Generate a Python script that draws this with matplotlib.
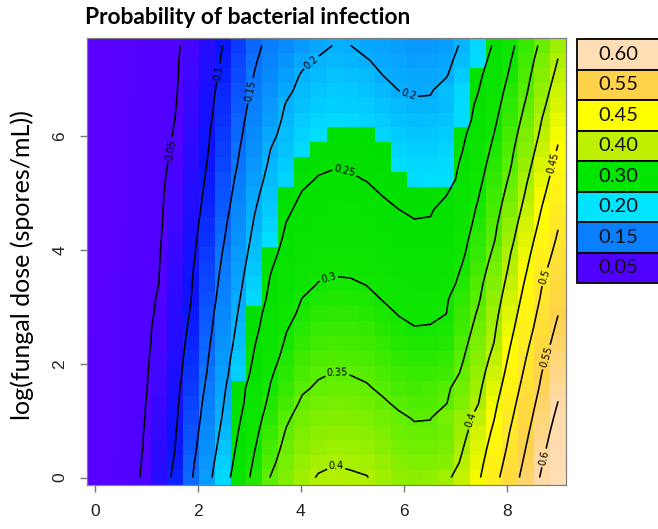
import numpy as np
import matplotlib
matplotlib.use("Agg")
import matplotlib.pyplot as plt
from matplotlib.colors import LinearSegmentedColormap, Normalize
from matplotlib.patches import Rectangle

# grid of log bacterial dose (columns) and log fungal dose (rows)
bact_dose = [0.00, 0.31, 0.62, 0.93, 1.24, 1.55, 1.86, 2.17, 2.48, 2.79,
             3.10, 3.41, 3.72, 4.03, 4.34, 4.66, 4.97, 5.28, 5.59, 5.90,
             6.21, 6.52, 6.83, 7.14, 7.45, 7.76, 8.07, 8.38, 8.69, 9.00]
fungal_dose = [0.00, 0.26, 0.52, 0.79, 1.05, 1.31, 1.57, 1.83, 2.10, 2.36,
               2.62, 2.88, 3.14, 3.41, 3.67, 3.93, 4.19, 4.46, 4.72, 4.98,
               5.24, 5.50, 5.77, 6.03, 6.29, 6.55, 6.81, 7.08, 7.34, 7.60]

# predicted infection probability x 1000, one row per fungal dose (bottom row first)
infection_permille = [
    [22, 31, 41, 52, 79, 107, 145, 185, 229, 272, 312, 351, 371, 391, 402, 404, 403, 401, 392, 383, 379, 383, 394, 414, 444, 486, 527, 567, 606, 645],
    [22, 31, 41, 51, 77, 103, 141, 180, 222, 265, 305, 342, 366, 385, 395, 399, 397, 394, 385, 376, 371, 372, 376, 406, 437, 476, 519, 559, 598, 636],
    [22, 30, 40, 50, 75, 99, 136, 174, 215, 258, 298, 333, 360, 378, 387, 390, 389, 385, 377, 368, 364, 364, 368, 398, 430, 467, 510, 551, 590, 628],
    [21, 30, 39, 49, 72, 97, 132, 169, 208, 251, 291, 325, 353, 370, 379, 382, 381, 377, 369, 360, 356, 356, 361, 389, 422, 458, 502, 543, 582, 619],
    [21, 30, 39, 47, 70, 94, 128, 164, 202, 244, 284, 317, 345, 363, 371, 374, 373, 369, 363, 355, 348, 349, 366, 386, 411, 449, 493, 535, 574, 610],
    [21, 29, 38, 46, 68, 92, 124, 160, 197, 237, 275, 309, 334, 355, 363, 366, 365, 361, 354, 345, 340, 342, 349, 372, 399, 441, 484, 527, 566, 601],
    [20, 29, 38, 45, 63, 90, 120, 155, 191, 236, 268, 302, 324, 346, 354, 358, 357, 353, 345, 337, 332, 336, 345, 364, 392, 431, 475, 518, 558, 593],
    [20, 29, 37, 44, 62, 87, 116, 150, 186, 224, 261, 296, 317, 337, 347, 351, 349, 345, 337, 329, 325, 325, 329, 355, 385, 421, 466, 509, 551, 584],
    [20, 28, 37, 44, 59, 85, 113, 146, 182, 218, 254, 287, 311, 330, 339, 342, 341, 337, 330, 321, 317, 317, 322, 347, 377, 411, 457, 500, 542, 575],
    [20, 28, 36, 43, 57, 83, 109, 142, 177, 212, 248, 278, 305, 322, 331, 335, 333, 330, 322, 313, 309, 309, 314, 340, 369, 401, 448, 491, 532, 566],
    [19, 28, 36, 44, 55, 80, 106, 138, 172, 207, 241, 271, 298, 315, 323, 327, 326, 322, 314, 306, 301, 302, 306, 332, 362, 395, 439, 482, 522, 558],
    [19, 27, 36, 43, 53, 78, 102, 135, 168, 202, 237, 264, 288, 308, 316, 319, 318, 314, 307, 299, 295, 295, 300, 327, 354, 389, 430, 474, 514, 549],
    [19, 27, 35, 42, 52, 76, 99, 131, 163, 197, 229, 258, 280, 301, 308, 312, 310, 307, 299, 292, 287, 290, 297, 319, 346, 382, 422, 465, 506, 540],
    [19, 27, 35, 42, 50, 73, 97, 127, 159, 192, 224, 253, 270, 288, 301, 304, 303, 299, 292, 285, 280, 281, 285, 311, 340, 374, 414, 456, 499, 532],
    [18, 26, 35, 42, 49, 71, 95, 124, 155, 188, 218, 248, 266, 284, 293, 296, 295, 291, 285, 278, 273, 274, 278, 303, 332, 366, 406, 447, 489, 523],
    [18, 26, 34, 41, 48, 69, 92, 120, 151, 183, 213, 241, 261, 278, 286, 290, 288, 285, 278, 271, 266, 267, 271, 295, 324, 357, 399, 439, 479, 514],
    [18, 26, 34, 41, 47, 66, 90, 116, 146, 178, 208, 234, 256, 271, 279, 283, 281, 278, 271, 264, 259, 260, 264, 289, 318, 348, 390, 430, 470, 505],
    [18, 25, 33, 40, 46, 63, 87, 113, 142, 172, 203, 227, 251, 265, 272, 276, 274, 271, 264, 257, 252, 253, 257, 282, 311, 342, 381, 422, 460, 497],
    [17, 25, 33, 40, 46, 61, 85, 109, 137, 167, 198, 221, 244, 259, 265, 269, 267, 264, 257, 250, 246, 247, 260, 281, 304, 335, 372, 413, 452, 488],
    [17, 25, 33, 40, 45, 60, 82, 106, 133, 162, 193, 215, 237, 252, 258, 262, 260, 257, 249, 245, 240, 242, 249, 271, 298, 329, 363, 404, 443, 479],
    [17, 25, 32, 39, 45, 57, 80, 103, 130, 157, 187, 210, 227, 244, 252, 255, 253, 249, 244, 239, 231, 233, 233, 263, 291, 322, 355, 396, 434, 471],
    [16, 24, 32, 39, 44, 55, 78, 100, 126, 152, 180, 205, 221, 236, 245, 248, 247, 243, 238, 233, 228, 229, 231, 256, 285, 315, 347, 387, 426, 462],
    [16, 24, 32, 39, 44, 52, 75, 97, 122, 148, 174, 200, 215, 231, 239, 242, 241, 237, 236, 226, 222, 222, 227, 249, 278, 308, 341, 378, 417, 453],
    [16, 24, 31, 38, 44, 51, 73, 95, 119, 144, 169, 193, 210, 225, 233, 236, 237, 236, 226, 220, 216, 216, 221, 243, 271, 301, 334, 370, 408, 444],
    [16, 23, 31, 38, 44, 50, 71, 92, 116, 141, 164, 187, 206, 219, 227, 230, 229, 225, 220, 214, 210, 211, 215, 232, 264, 294, 327, 362, 401, 436],
    [15, 23, 31, 38, 43, 48, 69, 90, 113, 137, 160, 181, 202, 214, 221, 224, 223, 219, 214, 208, 204, 204, 209, 231, 257, 287, 320, 354, 392, 427],
    [15, 23, 30, 37, 43, 47, 65, 88, 110, 133, 155, 175, 194, 208, 215, 219, 217, 214, 207, 200, 197, 198, 210, 229, 249, 280, 313, 346, 384, 418],
    [15, 22, 30, 37, 43, 46, 63, 85, 106, 129, 151, 169, 187, 203, 209, 213, 211, 208, 200, 197, 193, 193, 198, 219, 242, 272, 305, 339, 376, 409],
    [15, 22, 30, 37, 42, 46, 62, 82, 103, 125, 147, 163, 178, 193, 202, 207, 205, 201, 196, 192, 187, 188, 192, 211, 232, 264, 298, 332, 368, 401],
    [14, 22, 29, 36, 42, 45, 59, 80, 100, 121, 143, 158, 170, 182, 194, 201, 200, 195, 191, 186, 182, 182, 187, 204, 228, 254, 290, 325, 359, 392],
]

contour_levels = [0.05, 0.10, 0.15, 0.20, 0.25, 0.30, 0.35, 0.40, 0.45, 0.50, 0.55, 0.60]

# where the inline contour labels sit
label_spots = [
    (1.51, 5.76), (2.43, 7.11), (3.01, 6.81), (4.17, 7.34), (6.08, 6.69),
    (4.85, 5.37), (4.56, 3.47), (4.70, 1.83), (4.70, 0.25), (7.34, 1.00),
    (8.89, 5.53), (8.78, 3.52), (8.80, 2.11), (8.70, 0.35),
]

legend_labels = ["0.60", "0.55", "0.45", "0.40", "0.30", "0.20", "0.15", "0.05"]
legend_colors = ["#FFDDB5", "#FFD24A", "#FFFF00", "#BFF000", "#00E600", "#00E5FF", "#0A7FFF", "#5000FF"]

# colour ramp: blue side runs up to cyan, then jumps to green
vmax = 0.65
ramp = [
    (0.000, "#5E00FF"), (0.050, "#5000FF"), (0.100, "#0A14FF"),
    (0.150, "#0A74FF"), (0.200, "#06AEFF"), (0.2344, "#00E0FF"),
    (0.2346, "#00E000"), (0.300, "#10E600"), (0.350, "#5CEE00"),
    (0.400, "#ACF000"), (0.430, "#E0F600"), (0.450, "#FFFF00"),
    (0.500, "#FFE82A"), (0.550, "#FFD24A"), (0.600, "#FFDAA6"),
    (0.650, "#FFDEB8"),
]
cmap = LinearSegmentedColormap.from_list("infect", [(v / vmax, c) for v, c in ramp], N=4096)

x = np.array(bact_dose)
y = np.array(fungal_dose)
z = np.array(infection_permille) / 1000.0

fig = plt.figure(figsize=(6.58, 5.29), dpi=100)
ax = fig.add_axes([87 / 658, 44 / 529, 479 / 658, 447 / 529])

ax.pcolormesh(x, y, z, shading="nearest", cmap=cmap, norm=Normalize(0, vmax))
cs = ax.contour(x, y, z, levels=contour_levels, colors="black", linewidths=1.15)
ax.clabel(cs, manual=label_spots, inline=True, inline_spacing=2,
          fontsize=7, fmt=lambda v: f"{v:g}")

ax.set_xlim(-0.155, 9.155)
ax.set_ylim(-0.131, 7.731)
ax.set_xticks([0, 2, 4, 6, 8])
ax.set_yticks([0, 2, 4, 6])
ax.tick_params(length=5, width=1, color="#777777", labelsize=12.5, labelcolor="#222222", pad=9)
for lbl in ax.get_xticklabels() + ax.get_yticklabels():
    lbl.set_family(["Liberation Sans", "DejaVu Sans"])
for lbl in ax.get_yticklabels():
    lbl.set_rotation(90)
    lbl.set_va("center")
for sp in ax.spines.values():
    sp.set_color("#808080")
    sp.set_linewidth(0.9)

fig.text(85 / 658, 1 - 18 / 529, "Probability of bacterial infection", fontsize=16.4,
         fontweight="bold", family=["Lato", "DejaVu Sans"], ha="left", va="center")
fig.text(22 / 658, 1 - 265 / 529, "log(fungal dose (spores/mL))", rotation=90, fontsize=18,
         family=["Lato", "DejaVu Sans"], ha="center", va="center")

# colour key drawn as a stack of labelled boxes
lax = fig.add_axes([577 / 658, 1 - 283 / 529, 82 / 658, 244 / 529])
lax.set_xlim(0, 1)
lax.set_ylim(0, len(legend_labels))
lax.axis("off")
for i, (lab, col) in enumerate(zip(legend_labels, legend_colors)):
    top = len(legend_labels) - i
    lax.add_patch(Rectangle((0, top - 1), 1, 1, facecolor=col, edgecolor="black",
                            linewidth=1.3, clip_on=False))
    lax.text(0.5, top - 0.5, lab, ha="center", va="center", fontsize=14.5,
             family=["Lato", "DejaVu Sans"], color="#111111")

fig.savefig("out.png", dpi=100)
